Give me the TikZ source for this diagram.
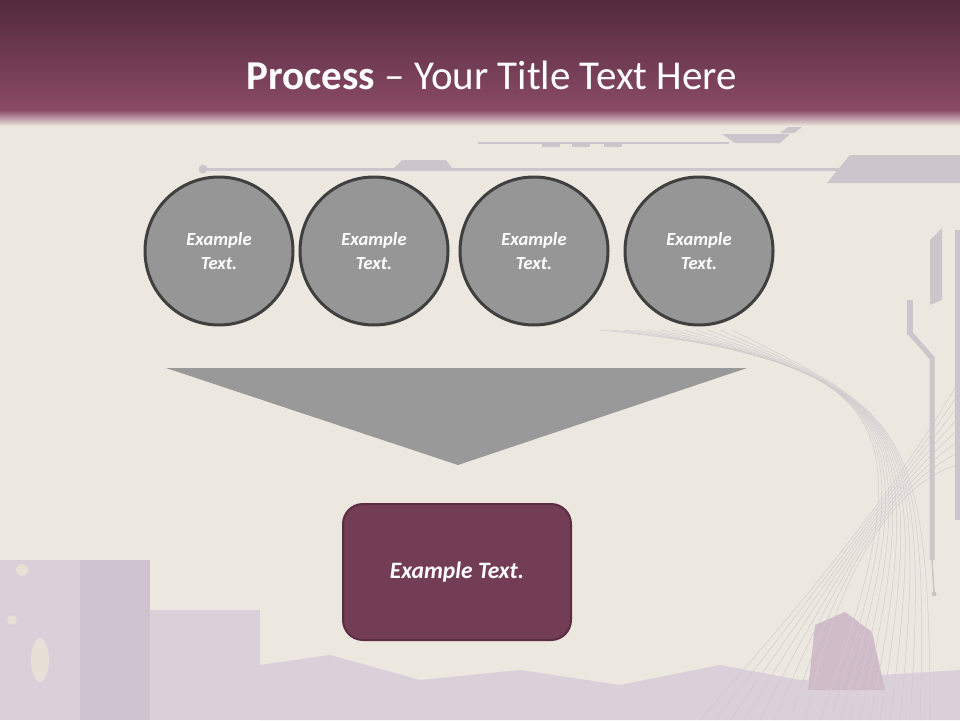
\documentclass[tikz,border=0pt]{standalone}
\usepackage{fontspec}
\setmainfont{Carlito}
\usetikzlibrary{shapes.geometric}
\definecolor{bgbeige}{HTML}{ECE7DF}
\definecolor{bandtop}{HTML}{532A3E}
\definecolor{bandbot}{HTML}{8A4A66}
\definecolor{deco}{HTML}{CCC5CC}
\definecolor{grunge}{HTML}{D9D0D9}
\definecolor{grungedark}{HTML}{CEC3CE}
\definecolor{grungepink}{HTML}{CFBCC8}
\definecolor{splotch}{HTML}{E6E0D6}
\definecolor{circfill}{HTML}{969696}
\definecolor{circline}{HTML}{404040}
\definecolor{trifill}{HTML}{999999}
\definecolor{boxfill}{HTML}{733D55}
\definecolor{boxline}{HTML}{5A2D42}
\tikzset{
  stepcircle/.style={circle, draw=circline, line width=3pt, fill=circfill,
    minimum size=148pt, inner sep=0pt, text=white, align=center,
    font=\fontsize{18.5}{24}\selectfont\bfseries\itshape},
  resultbox/.style={rectangle, rounded corners=20pt, draw=boxline, line width=2pt,
    fill=boxfill, minimum width=228pt, minimum height=136pt, text=white,
    font=\fontsize{23.5}{28}\selectfont\bfseries\itshape},
  decoline/.style={draw=deco, line width=3pt},
  stringline/.style={draw=deco!80!bgbeige, line width=0.5pt},
}
\begin{document}
\begin{tikzpicture}[x=1pt,y=-1pt]
\useasboundingbox (0,0) rectangle (960,720);
% background
\fill[bgbeige] (0,0) rectangle (960,720);
% bottom grunge
\fill[grunge] (0,690) rectangle (960,720);
\fill[grunge] (0,560) rectangle (80,720);
\fill[grungedark] (80,560) rectangle (150,720);
\fill[grunge] (150,610) rectangle (260,720);
\fill[grunge] (260,665) -- (330,655) -- (420,680) -- (520,670) -- (620,685) -- (720,665) -- (800,680) -- (960,670) -- (960,720) -- (260,720) -- cycle;
\fill[grungepink] (815,625) -- (845,612) -- (872,632) -- (885,690) -- (808,690) -- cycle;
\fill[splotch] (22,570) circle (6pt);
\fill[splotch] (40,660) ellipse (9pt and 22pt);
\fill[splotch] (12,620) circle (5pt);
% string-art curves
\foreach \k in {0,...,11}{
  \draw[stringline] (600+\k*12,330) .. controls (900,360+\k*5) and (930,420) .. (820+\k*10,720);
}
\foreach \k in {0,...,7}{
  \draw[stringline] (960,380+\k*12) .. controls (900,480) and (840,560) .. (700+\k*15,720);
}
% top-right decorations
\draw[decoline] (203,169) -- (857,169);
\fill[deco] (203,169) circle (4.5pt);
\fill[deco] (393,169) -- (402,160) -- (446,160) -- (453,169) -- cycle;
\draw[deco, line width=2pt] (478,143) -- (729,143);
\fill[deco] (542,143) rectangle (560,147);
\fill[deco] (572,143) rectangle (590,147);
\fill[deco] (604,143) rectangle (622,147);
\fill[deco] (722,134) -- (790,134) -- (780,143) -- (735,143) -- cycle;
\fill[deco] (780,133) -- (812,110) -- (826,110) -- (794,133) -- cycle;
\fill[deco] (827,183) -- (850,155) -- (960,155) -- (960,183) -- cycle;
\fill[deco] (930,110) -- (945,110) -- (935,122) -- (920,122) -- cycle;
\fill[deco] (930,240) -- (942,228) -- (942,300) -- (930,305) -- cycle;
\fill[deco] (907,300) rectangle (913,335);
\draw[deco, line width=5pt] (910,333) -- (932,358) -- (932,560);
\draw[deco, line width=1.5pt] (932,560) -- (934,592);
\fill[deco] (934,594) circle (2.5pt);
\fill[deco] (955,230) rectangle (960,520);
% title band
\shade[top color=bandtop, bottom color=bandbot] (0,0) rectangle (960,110);
\shade[top color=bandbot, bottom color=bgbeige] (0,110) rectangle (960,126);
\node[text=white, font=\fontsize{41}{48}\selectfont] (title) at (492,75)
  {\textbf{Process} -- Your Title Text Here};
% circles
\node[stepcircle] (c1) at (219,251) {Example\\Text.};
\node[stepcircle] (c2) at (374,251) {Example\\Text.};
\node[stepcircle] (c3) at (534,251) {Example\\Text.};
\node[stepcircle] (c4) at (699,251) {Example\\Text.};
% funnel triangle
\coordinate (tl) at (166,368);
\coordinate (tr) at (747,368);
\coordinate (tip) at (458,465);
\fill[trifill] (tl) -- (tr) -- (tip) -- cycle;
% result box
\node[resultbox] (res) at (457,572) {Example Text.};
\end{tikzpicture}
\end{document}
